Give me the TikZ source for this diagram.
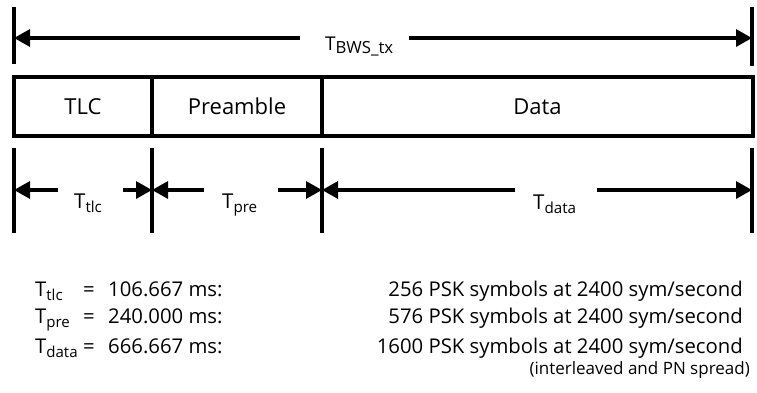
\documentclass[tikz,border=0pt]{standalone}
\usepackage{fontspec}
\setmainfont{Open Sans}
\usepackage{graphicx}
\usetikzlibrary{arrows.meta}
\newcommand\Tsb[2][0.74]{T\raisebox{-0.38ex}{\scalebox{#1}{#2}}}
\tikzset{
  bar/.style={line width=3.2pt},
  dimarrow/.style={line width=3.2pt,-{Triangle[length=16pt,width=17pt]}},
  seg/.style={draw,line width=3.2pt,minimum height=59pt,inner sep=0pt,font=\fontsize{22}{26}\selectfont},
  lbl/.style={inner sep=0pt,anchor=base west,font=\fontsize{20.5}{24}\selectfont},
  row/.style={inner sep=0pt,font=\fontsize{20.3}{24}\selectfont},
}
\begin{document}
\begin{tikzpicture}[x=1pt,y=-1pt]
\useasboundingbox (0,0) rectangle (757,392);
% top dimension
\coordinate (t1) at (14,7);  \coordinate (b1) at (14,64);
\coordinate (t2) at (752,7); \coordinate (b2) at (752,66);
\draw[bar] (t1) -- (b1);
\draw[bar] (t2) -- (b2);
\node[lbl,font=\fontsize{19}{22}\selectfont] (bws) at (325,50) {\Tsb[0.88]{BWS\_tx}};
\coordinate (a1s) at (300,38); \coordinate (a1e) at (14,38);
\coordinate (a2s) at (409,38); \coordinate (a2e) at (752,38);
\draw[dimarrow] (a1s) -- (a1e);
\draw[dimarrow] (a2s) -- (a2e);
% segments
\node[seg,minimum width=138pt] (tlc) at (83,106.5) {TLC};
\node[seg,minimum width=170pt] (pre) at (237,106.5) {Preamble};
\node[seg,minimum width=431pt] (data) at (537.5,106.5) {Data};
% lower dimension bars
\foreach \n/\x in {p/14,q/152,r/322,s/752}{
  \coordinate (\n t) at (\x,148);
  \coordinate (\n b) at (\x,233);
  \coordinate (\n m) at (\x,190);
  \draw[bar] (\n t) -- (\n b);
}
\node[lbl] (ltlc) at (74,208) {\Tsb{tlc}};
\node[lbl] (lpre) at (222,208) {\Tsb{pre}};
\node[lbl] (ldata) at (533,209) {\Tsb{data}};
\coordinate (c1) at (58,190);
\coordinate (c2) at (123,190);
\coordinate (c3) at (204,190);
\coordinate (c4) at (278,190);
\coordinate (c5) at (515,190);
\coordinate (c6) at (597,190);
\draw[dimarrow] (c1) -- (pm);
\draw[dimarrow] (c2) -- (qm);
\draw[dimarrow] (c3) -- (qm);
\draw[dimarrow] (c4) -- (rm);
\draw[dimarrow] (c5) -- (rm);
\draw[dimarrow] (c6) -- (sm);
% table
\foreach \y/\sub/\val/\desc [count=\i] in {296/tlc/106.667/256, 323/pre/240.000/576, 353/data/666.667/1600}{
  \node[row,anchor=base west] (k\i) at (35,\y) {\Tsb{\sub}};
  \node[row,anchor=base] (e\i) at (89,\y) {=};
  \node[row,anchor=base west] (v\i) at (108,\y) {\val\ ms:};
  \node[row,anchor=base east] (d\i) at (743,\y) {\desc\ PSK symbols at 2400 sym/second};
}
\node[row,anchor=base east,font=\fontsize{17}{20}\selectfont] (note) at (750,374) {(interleaved and PN spread)};
\end{tikzpicture}
\end{document}
